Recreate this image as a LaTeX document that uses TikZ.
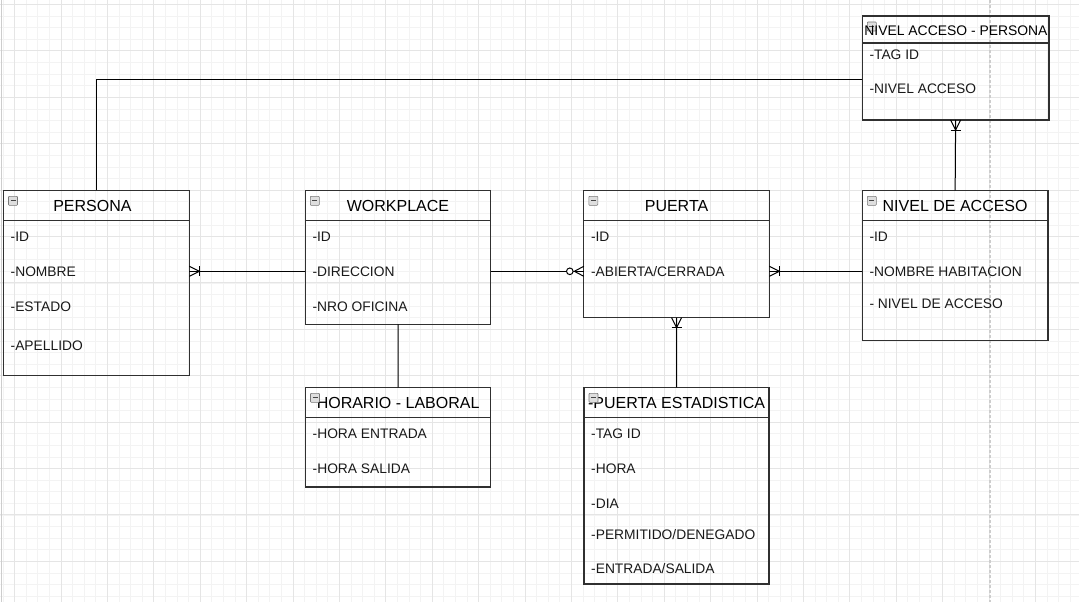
\documentclass[tikz,border=0pt]{standalone}
\usepackage{fontspec}
\setmainfont{Liberation Sans}
\definecolor{gridminor}{RGB}{243,243,243}
\definecolor{gridmajor}{RGB}{229,229,229}
\definecolor{pagecol}{RGB}{205,205,205}
\definecolor{boxcol}{RGB}{48,48,48}
\definecolor{iconfill}{RGB}{222,222,222}
\definecolor{icondraw}{RGB}{120,120,120}
\definecolor{icondashc}{RGB}{70,70,70}
\newcommand\ericon[1]{%
  \draw[icon] ([shift={(5,6)}]#1.north west) rectangle ++(9,9);
  \draw[icondash] ([shift={(7,10.5)}]#1.north west) -- ++(5,0);}
\newcommand\hdr[2]{\draw[hline] ([shift={(0,#2)}]#1.north west) -- ([shift={(0,#2)}]#1.north east);}
% one-or-many marker, horizontal: #1 end point at the box, #2 = +1 if the line leaves to the right
\newcommand\omH[2]{%
  \draw[conn] ([shift={(0,-5)}]#1) -- ([shift={({#2*10},0)}]#1) -- ([shift={(0,5)}]#1);
  \draw[conn] ([shift={({#2*10},-5)}]#1) -- ([shift={({#2*10},5)}]#1);}
% one-or-many marker, vertical: #2 = +1 if the line leaves downwards
\newcommand\omV[2]{%
  \draw[conn] ([shift={(-5,0)}]#1) -- ([shift={(0,{#2*10})}]#1) -- ([shift={(5,0)}]#1);
  \draw[conn] ([shift={(-5,{#2*10})}]#1) -- ([shift={(5,{#2*10})}]#1);}
% zero-or-many marker, horizontal
\newcommand\zmH[2]{%
  \draw[conn] ([shift={(0,-5)}]#1) -- ([shift={({#2*9.5},0)}]#1) -- ([shift={(0,5)}]#1);
  \draw[conn, fill=white] ([shift={({#2*14},0)}]#1) circle[radius=3.3];}
\begin{document}
\begin{tikzpicture}[x=1pt,y=-1pt,
  entity/.style={draw=boxcol, line width=1.2pt, inner sep=0pt, outer sep=0pt, anchor=north west},
  title/.style={font=\fontsize{16}{19}\selectfont, inner sep=0pt, text=black},
  smalltitle/.style={font=\fontsize{13.9}{17}\selectfont, inner sep=0pt, text=black},
  row/.style={font=\fontsize{13.8}{16}\selectfont, inner sep=0pt, anchor=west, text=black!90},
  conn/.style={draw=black, line width=1pt},
  hline/.style={draw=boxcol, line width=1.2pt},
  icon/.style={fill=iconfill, draw=icondraw, line width=0.6pt, rounded corners=0.8pt},
  icondash/.style={draw=icondashc, line width=1.2pt},
]
\useasboundingbox (0,0) rectangle (1079,602);
\fill[white] (0,0) rectangle (1079,602);
% grid
\foreach \i in {0,...,93} \draw[gridminor, line width=0.8pt] ({3+11.6*\i},0) -- ({3+11.6*\i},602);
\foreach \i in {0,...,52} \draw[gridminor, line width=0.8pt] (0,{4.5+11.6*\i}) -- (1079,{4.5+11.6*\i});
\foreach \i in {0,...,22} \draw[gridmajor, line width=0.9pt] ({14.6+46.4*\i},0) -- ({14.6+46.4*\i},602);
\foreach \i in {0,...,12} \draw[gridmajor, line width=0.9pt] (0,{4.5+46.4*\i}) -- (1079,{4.5+46.4*\i});
\draw[pagecol, line width=1pt] (1.5,0) -- (1.5,602);
\draw[pagecol, line width=1.2pt, dash pattern=on 3pt off 2pt] (990,0) -- (990,602);

% PERSONA
\node[entity, minimum width=185.8, minimum height=185.4] (persona) at (3.5,190.3) {};
\hdr{persona}{30.5}
\ericon{persona}
\node[title] (persona-t) at ([shift={(-4,15.8)}]persona.north) {PERSONA};
\node[row] (persona-1) at ([shift={(7,46)}]persona.north west) {-ID};
\node[row] (persona-2) at ([shift={(7,81)}]persona.north west) {-NOMBRE};
\node[row] (persona-3) at ([shift={(7,116)}]persona.north west) {-ESTADO};
\node[row] (persona-4) at ([shift={(7,155)}]persona.north west) {-APELLIDO};

% WORKPLACE
\node[entity, minimum width=185.4, minimum height=134] (wp) at (305.3,190.3) {};
\hdr{wp}{30.5}
\ericon{wp}
\node[title] (wp-t) at ([shift={(0,15.8)}]wp.north) {WORKPLACE};
\node[row] (wp-1) at ([shift={(7,46)}]wp.north west) {-ID};
\node[row] (wp-2) at ([shift={(7,81)}]wp.north west) {-DIRECCION};
\node[row] (wp-3) at ([shift={(7,116)}]wp.north west) {-NRO OFICINA};

% PUERTA
\node[entity, minimum width=185.5, minimum height=127.4] (pu) at (583.8,190.3) {};
\hdr{pu}{30.5}
\ericon{pu}
\node[title] (pu-t) at ([shift={(0,15.8)}]pu.north) {PUERTA};
\node[row] (pu-1) at ([shift={(7,46)}]pu.north west) {-ID};
\node[row] (pu-2) at ([shift={(7,81)}]pu.north west) {-ABIERTA/CERRADA};

% NIVEL DE ACCESO
\node[entity, minimum width=185.7, minimum height=150.4] (nda) at (862.3,190.3) {};
\hdr{nda}{30}
\ericon{nda}
\node[title] (nda-t) at ([shift={(0,15.8)}]nda.north) {NIVEL DE ACCESO};
\node[row] (nda-1) at ([shift={(7,46.4)}]nda.north west) {-ID};
\node[row] (nda-2) at ([shift={(7,81.2)}]nda.north west) {-NOMBRE HABITACION};
\node[row] (nda-3) at ([shift={(7,113)}]nda.north west) {- NIVEL DE ACCESO};

% NIVEL ACCESO - PERSONA
\node[entity, minimum width=186.7, minimum height=104] (nap) at (862.3,16) {};
\hdr{nap}{27}
\ericon{nap}
\node[smalltitle] (nap-t) at ([shift={(0.3,14.5)}]nap.north) {NIVEL ACCESO - PERSONA};
\node[row] (nap-1) at ([shift={(7,39)}]nap.north west) {-TAG ID};
\node[row] (nap-2) at ([shift={(7,72.3)}]nap.north west) {-NIVEL ACCESO};

% HORARIO - LABORAL
\node[entity, minimum width=185.2, minimum height=99.7] (hl) at (305.5,387.3) {};
\hdr{hl}{30.4}
\node[title] (hl-t) at ([shift={(0,16)}]hl.north) {HORARIO - LABORAL};
\ericon{hl}
\node[row] (hl-1) at ([shift={(7,46)}]hl.north west) {-HORA ENTRADA};
\node[row] (hl-2) at ([shift={(7,81)}]hl.north west) {-HORA SALIDA};

% PUERTA ESTADISTICA
\node[entity, minimum width=185, minimum height=196.7] (pe) at (584,387.3) {};
\hdr{pe}{30.4}
\node[title] (pe-t) at ([shift={(0,16)}]pe.north) {-PUERTA ESTADISTICA};
\ericon{pe}
\node[row] (pe-1) at ([shift={(7,46)}]pe.north west) {-TAG ID};
\node[row] (pe-2) at ([shift={(7,81)}]pe.north west) {-HORA};
\node[row] (pe-3) at ([shift={(7,116)}]pe.north west) {-DIA};
\node[row] (pe-4) at ([shift={(7,147.7)}]pe.north west) {-PERMITIDO/DENEGADO};
\node[row] (pe-5) at ([shift={(7,181)}]pe.north west) {-ENTRADA/SALIDA};

% connectors
\coordinate (bend) at ([shift={(0,64)}]nap.north west);
\draw[conn] (persona.north) |- (bend);

\coordinate (c-pers) at (wp-2.west -| persona.east);
\draw[conn] (wp-2.west -| wp.west) -- (c-pers);
\omH{c-pers}{1}

\coordinate (c-pu-w) at (wp-2.west -| pu.west);
\draw[conn] (wp-2.west -| wp.east) -- (c-pu-w);
\zmH{c-pu-w}{-1}

\coordinate (c-pu-e) at (pu-2.west -| pu.east);
\draw[conn] (pu-2.west -| nda.west) -- (c-pu-e);
\omH{c-pu-e}{1}

\draw[conn] (pe.north) -- (pu.south);
\omV{pu.south}{1}

\draw[conn] (nda.north) -- (nap.south);
\omV{nap.south}{1}

\draw[conn] (hl.north) -- (wp.south);
\end{tikzpicture}
\end{document}
